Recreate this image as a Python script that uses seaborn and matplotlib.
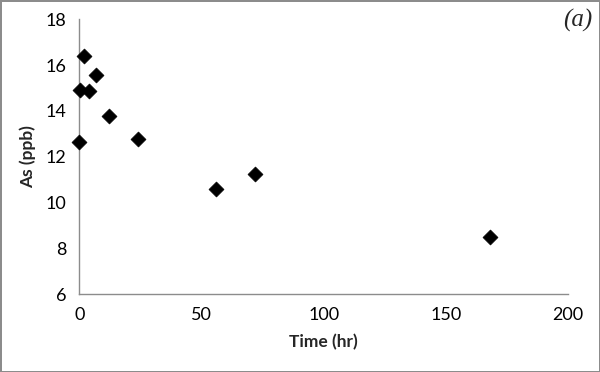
import seaborn as sns
import matplotlib.pyplot as plt
import pandas as pd

# Arsenic concentration over time
time_hr = [0, 0.5, 2, 4, 7, 12, 24, 56, 72, 168]
as_ppb = [12.63, 14.92, 16.40, 14.87, 15.57, 13.79, 12.76, 10.58, 11.25, 8.49]

df = pd.DataFrame({"Time (hr)": time_hr, "As (ppb)": as_ppb})

sns.set_theme(style="white")
plt.rcParams["font.family"] = ["Lato", "DejaVu Sans"]

fig = plt.figure(figsize=(6, 3.72), dpi=100, linewidth=2, edgecolor="#8c8c8c")
ax = fig.add_axes([0.132, 0.209, 0.815, 0.739])

sns.scatterplot(x="Time (hr)", y="As (ppb)", data=df, ax=ax, marker="D",
                s=58, color="black", edgecolor="black", linewidth=0.5,
                clip_on=False, zorder=3)

ax.set_xlim(0, 200)
ax.set_ylim(6, 18)
ax.set_xticks([0, 50, 100, 150, 200])
ax.set_yticks(range(6, 19, 2))

sns.despine(ax=ax)
for side in ["left", "bottom"]:
    ax.spines[side].set_color("#8c8c8c")
    ax.spines[side].set_linewidth(1)
ax.tick_params(axis="both", direction="out", length=4, width=1, color="#8c8c8c",
               labelsize=13, labelcolor="black")
ax.tick_params(axis="y", pad=5)
ax.tick_params(axis="x", pad=5)

ax.set_xlabel("Time (hr)", fontsize=12.5, fontweight="bold", labelpad=8)
ax.set_ylabel("As (ppb)", fontsize=12.5, fontweight="bold", labelpad=7)

fig.text(0.988, 0.975, "(a)", ha="right", va="top", fontsize=18,
         style="italic", family="Liberation Serif")

fig.savefig("out.png", dpi=100, edgecolor=fig.get_edgecolor())
